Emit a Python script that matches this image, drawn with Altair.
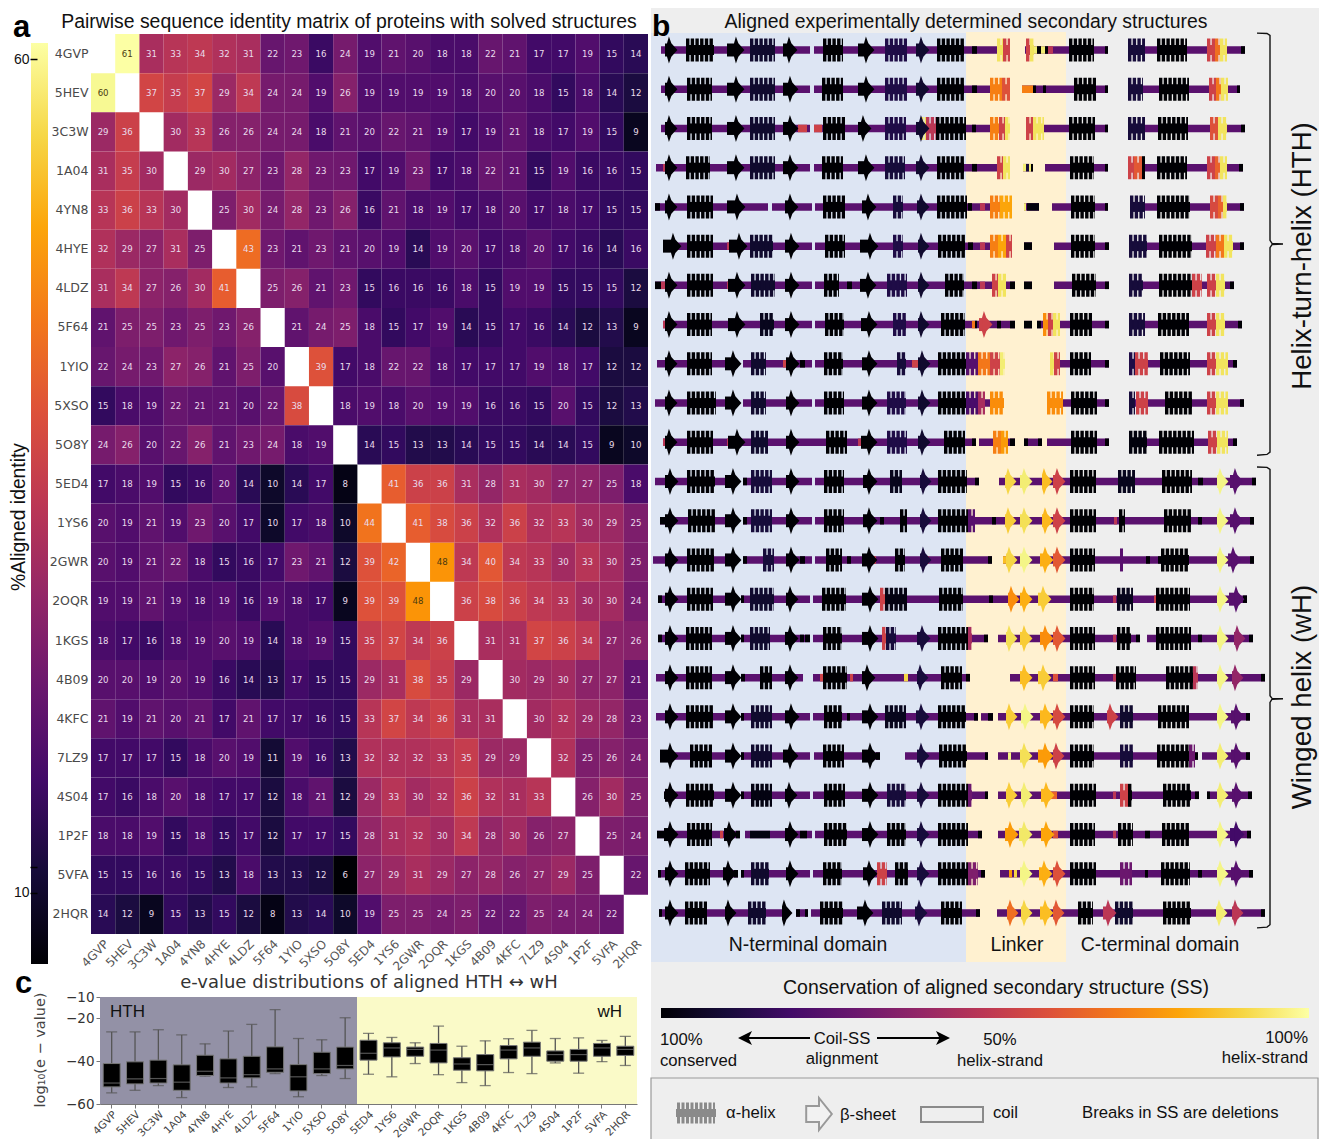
import altair as alt
import pandas as pd

IDS = ["4GVP","5HEV","3C3W","1A04","4YN8","4HYE","4LDZ","5F64","1YIO","5XSO","5O8Y",
       "5ED4","1YS6","2GWR","2OQR","1KGS","4B09","4KFC","7LZ9","4S04","1P2F","5VFA","2HQR"]

IDENTITY = [
 [None,61,31,33,34,32,31,22,23,16,24,19,21,20,18,18,22,21,17,17,19,15,14],
 [60,None,37,35,37,29,34,24,24,19,26,19,19,19,19,18,20,20,18,15,18,14,12],
 [29,36,None,30,33,26,26,24,24,18,21,20,22,21,19,17,19,21,18,17,19,15,9],
 [31,35,30,None,29,30,27,23,28,23,23,17,19,23,17,18,22,21,15,19,16,16,15],
 [33,36,33,30,None,25,30,24,28,23,26,16,21,18,19,17,18,20,17,18,17,15,15],
 [32,29,27,31,25,None,43,23,21,23,21,20,19,14,19,20,17,18,20,17,16,14,16],
 [31,34,27,26,30,41,None,25,26,21,23,15,16,16,16,18,15,19,19,15,15,15,12],
 [21,25,25,23,25,23,26,None,21,24,25,18,15,17,19,14,15,17,16,14,12,13,9],
 [22,24,23,27,26,21,25,20,None,39,17,18,22,22,18,17,17,17,19,18,17,12,12],
 [15,18,19,22,21,21,20,22,38,None,18,19,18,20,19,19,16,16,15,20,15,12,13],
 [24,26,20,22,26,21,23,24,18,19,None,14,15,13,13,14,15,15,14,14,15,9,10],
 [17,18,19,15,16,20,14,10,14,17,8,None,41,36,36,31,28,31,30,27,27,25,18],
 [20,19,21,19,23,20,17,10,17,18,10,44,None,41,38,36,32,36,32,33,30,29,25],
 [20,19,21,22,18,15,16,17,23,21,12,39,42,None,48,34,40,34,33,30,33,30,25],
 [19,19,21,19,18,19,16,19,18,17,9,39,39,48,None,36,38,36,34,33,30,30,24],
 [18,17,16,18,19,20,19,14,18,19,15,35,37,34,36,None,31,31,37,36,34,27,26],
 [20,20,19,20,19,16,14,13,17,15,15,29,31,38,35,29,None,30,29,30,27,27,21],
 [21,19,21,20,21,17,21,17,17,16,15,33,37,34,36,31,31,None,30,32,29,28,23],
 [17,17,17,15,18,20,19,11,19,16,13,32,32,32,33,35,29,29,None,32,25,26,24],
 [17,16,18,20,18,17,17,12,18,21,12,29,33,30,32,36,32,31,33,None,26,30,25],
 [18,18,19,15,18,15,17,12,17,17,15,28,31,32,30,34,28,30,26,27,None,25,24],
 [15,15,16,16,15,13,18,13,13,12,6,27,29,31,29,27,28,26,27,29,25,None,22],
 [14,12,9,15,13,15,12,8,13,14,10,19,25,25,24,25,22,22,25,24,24,22,None],
]

# whisker top, box top, median, box bottom, whisker bottom  (log10 e-value)
WHISK_HI = [-26.3,-26.3,-25.3,-27.7,-31.9,-25.9,-22.8,-15.9,-29.4,-30.0,-19.7,-27.0,-28.9,-31.4,-23.6,-33.0,-30.5,-29.5,-25.6,-29.4,-29.1,-30.3,-28.4]
BOX_HI    = [-41.1,-40.3,-39.5,-41.7,-37.2,-38.9,-37.7,-33.3,-41.6,-35.8,-33.4,-30.2,-31.4,-33.4,-31.7,-38.4,-36.9,-32.7,-31.1,-35.2,-34.5,-31.7,-33.0]
MEDIAN    = [-50.2,-48.3,-48.1,-49.8,-44.7,-47.8,-46.3,-43.6,-47.3,-43.6,-42.0,-36.3,-33.8,-34.5,-34.8,-41.3,-41.6,-34.8,-33.8,-36.9,-36.9,-33.8,-34.5]
BOX_LO    = [-52.0,-50.6,-50.2,-53.6,-46.7,-50.2,-47.8,-45.2,-53.9,-45.8,-43.6,-39.5,-38.0,-37.7,-40.8,-44.2,-44.5,-38.9,-37.7,-40.0,-40.0,-37.7,-37.3]
WHISK_LO  = [-54.8,-53.6,-51.4,-57.0,-47.0,-52.3,-52.0,-45.8,-56.6,-46.7,-48.1,-46.1,-47.3,-41.1,-46.3,-50.0,-51.4,-45.3,-45.8,-40.8,-45.6,-40.2,-42.0]

INFERNO = ["#000004","#160b39","#420a68","#6a176e","#932667","#bc3754","#dd513a","#f37819","#fca50a","#f6d746","#fcffa4"]

# Secondary-structure tracks: alignment columns (start, end) and conservation colour value
COILS = [
 [(11,160),(164,360),(375,458),(478,595)],
 [(11,160),(164,360),(372,458),(478,590)],
 [(11,160),(164,360),(378,458),(478,595)],
 [(6,160),(164,360),(373,383),(395,458),(478,593)],
 [(5,118),(122,162),(165,362),(374,389),(402,458),(480,594)],
 [(13,162),(165,362),(374,382),(404,459),(479,594)],
 [(5,162),(165,365),(374,382),(404,459),(479,584)],
 [(13,162),(165,365),(374,382),(387,459),(479,592)],
 [(7,88),(93,162),(165,352),(400,459),(479,587)],
 [(5,88),(93,162),(165,354),(397,459),(479,594)],
 [(13,326),(329,365),(374,392),(397,459),(479,587)],
 [(5,87),(93,162),(165,329),(349,606)],
 [(10,87),(93,162),(165,604)],
 [(3,87),(93,162),(165,342),(353,604)],
 [(8,86),(91,160),(163,597)],
 [(8,86),(91,160),(163,338),(348,490),(497,603)],
 [(6,86),(91,153),(163,320),(360,615)],
 [(6,86),(91,160),(163,328),(331,343),(348,600)],
 [(10,87),(91,160),(164,230),(255,338),(348,548),(552,600)],
 [(14,86),(91,160),(163,338),(348,549),(557,602)],
 [(7,90),(95,162),(165,332),(348,601)],
 [(8,88),(91,160),(163,335),(350,603)],
 [(9,139),(146,158),(161,330),(347,615)],
]
PATCHES = [
 [(77,81,.5),(208,212,.5),(322,327,0),(384,387,.95),(387,391,0),(391,395,.95),(395,398,0),(398,403,.5),(455,458,0),(591,595,0)],
 [(77,81,.5),(208,212,.5),(322,327,0),(372,383,.72),(383,386,0),(393,396,0),(455,458,0),(587,590,0)],
 [(77,81,.5),(148,157,.55),(164,172,.55),(208,212,.5),(322,326,0),(455,458,0),(591,595,0)],
 [(13,16,.5),(77,81,.5),(322,327,0),(373,376,.95),(376,379,.1),(379,381,.95),(381,383,0),(455,458,0),(589,593,0)],
 [(5,10,0),(318,322,0),(330,335,.5),(374,376,.95),(377,389,.02),(455,458,0),(590,594,0)],
 [(77,83,.5),(318,323,0),(330,335,.5),(374,382,0),(455,459,0),(590,594,0)],
 [(5,11,0),(11,15,.5),(77,80,.5),(197,202,0),(322,327,0),(330,335,.5),(360,365,0),(374,382,0),(455,459,0),(580,584,0)],
 [(13,16,.5),(322,325,.7),(325,327,0),(347,351,0),(360,365,0),(374,382,0),(387,391,0),(455,459,0),(588,592,0)],
 [(133,137,.55),(150,155,0),(262,268,.55),(455,459,0),(583,587,0)],
 [(455,459,0),(590,594,0)],
 [(13,17,.5),(77,81,.5),(208,213,.5),(322,326,0),(360,365,0),(374,378,0),(388,392,0),(455,459,0),(583,587,0)],
 [(93,97,0),(325,329,0),(548,553,0),(602,606,0)],
 [(10,15,0),(93,97,0),(230,234,0),(342,346,0),(464,467,.5),(548,552,0),(600,604,0)],
 [(93,97,0),(150,155,0),(197,201,0),(223,226,.55),(276,279,.55),(338,342,0),(353,358,.85),(496,500,0),(508,512,0),(600,604,0)],
 [(8,12,0),(91,94,0),(339,343,0),(463,466,.5),(504,506,.55),(593,597,0)],
 [(8,12,0),(91,94,0),(150,154,0),(155,160,0),(334,338,0),(463,466,.5),(486,490,0),(548,552,0),(599,603,0)],
 [(91,95,0),(170,173,.55),(200,203,.55),(254,258,.9),(316,320,0),(403,408,.6),(463,467,.5),(611,615,0)],
 [(91,94,0),(197,200,0),(324,328,0),(338,343,0),(596,600,0)],
 [(10,20,0),(91,94,0),(226,230,0),(335,338,0),(358,361,.97),(544,548,0),(596,600,0)],
 [(14,18,0),(91,94,0),(335,338,0),(400,407,.65),(463,466,.5),(545,549,0),(557,560,0),(598,602,0)],
 [(7,20,0),(70,73,.55),(86,90,0),(100,120,.03),(150,157,0),(328,332,0),(403,408,.6),(463,466,.5),(495,500,0),(597,601,0)],
 [(8,11,0),(84,88,0),(91,94,0),(331,335,0),(359,362,.78),(364,367,.9),(495,498,0),(548,552,0),(599,603,0)],
 [(9,12,0),(146,150,0),(155,158,0),(326,330,0),(611,615,0)],
]
HELICES = [
 [(36,64,0),(100,125,.08),(173,193,0),(235,257,.12),(287,314,0),(347,353,.93),(353,360,.55),(376,380,.55),(380,384,.93),(419,444,0),(478,495,.1),(507,537,0),(557,565,.55),(565,570,.68),(570,577,.93)],
 [(37,62,0),(100,125,.08),(172,193,0),(235,257,.12),(287,314,0),(340,352,.72),(352,360,.6),(424,446,0),(478,493,.1),(509,539,0),(559,566,.55),(566,571,.7),(571,578,.93)],
 [(37,62,0),(100,125,.08),(173,195,0),(235,256,.12),(270,276,.92),(276,286,.5),(286,316,0),(340,349,.72),(349,355,.55),(355,360,.93),(376,383,.55),(383,394,.93),(419,445,0),(478,495,.1),(508,538,0),(560,568,.6),(568,577,.93)],
 [(36,60,0),(100,125,.08),(172,193,0),(235,255,.1),(287,314,0),(347,353,.55),(353,360,.93),(420,444,0),(478,484,.55),(484,492,.62),(492,495,0),(507,537,0),(557,565,.55),(565,570,.65),(570,577,.93)],
 [(37,63,0),(173,195,0),(243,253,.1),(287,317,0),(340,350,.72),(350,362,.8),(421,445,0),(480,495,.1),(507,540,0),(560,568,.58),(568,573,.65),(573,577,.93)],
 [(37,63,0),(100,123,.08),(175,195,0),(243,253,.12),(288,315,0),(340,348,.72),(348,356,.8),(356,362,.55),(421,445,0),(479,497,.1),(509,542,0),(556,566,.55),(566,574,.7),(574,583,.93)],
 [(37,63,0),(101,125,.08),(174,189,0),(237,257,.12),(295,314,0),(342,348,.55),(348,356,.93),(422,446,0),(479,493,.1),(509,542,0),(542,552,.55),(557,566,.55),(566,575,.93)],
 [(37,62,0),(110,124,.05),(175,194,0),(243,256,.12),(291,315,0),(393,398,.75),(398,403,.55),(403,410,.93),(420,442,0),(479,495,.1),(508,539,0),(557,566,.55),(566,575,.93)],
 [(37,62,0),(101,116,.08),(174,193,0),(247,256,.1),(288,316,0),(316,328,.25),(328,340,.7),(340,350,.55),(350,355,.95),(400,404,.93),(404,410,.55),(420,441,0),(479,485,.12),(485,498,.55),(510,540,0),(557,566,.55),(566,578,.93)],
 [(37,66,0),(101,116,.08),(174,194,0),(237,256,.12),(288,316,0),(316,328,.22),(328,335,.45),(340,354,.75),(397,413,.75),(421,447,0),(479,485,.1),(486,498,.55),(515,542,0),(557,566,.55),(566,578,.93)],
 [(37,63,0),(101,118,.08),(176,197,0),(237,257,.12),(294,315,0),(343,351,.72),(351,358,.78),(421,447,0),(479,497,.02),(509,544,0),(558,567,.55),(567,578,.93)],
 [(37,65,0),(101,122,.1),(174,194,0),(240,252,.05),(288,317,0),(420,446,0),(468,485,.05),(512,542,0)],
 [(38,65,0),(101,122,.1),(174,194,0),(250,257,0),(288,318,0),(318,325,.25),(420,446,0),(469,475,0),(514,541,0)],
 [(37,64,0),(113,124,.1),(176,192,0),(245,255,0),(291,313,0),(420,445,0),(470,473,.25),(511,539,0)],
 [(37,63,0),(100,124,.08),(172,196,0),(230,235,.55),(235,257,.03),(289,313,0),(420,444,0),(467,483,.05),(506,540,0)],
 [(36,62,0),(100,120,.08),(173,192,0),(232,236,.55),(236,246,.1),(288,318,0),(318,322,.45),(420,445,0),(467,481,0),(506,541,0)],
 [(36,62,0),(110,122,0),(173,197,0),(291,312,0),(420,445,0),(466,486,0),(516,543,0),(543,548,.5)],
 [(36,63,0),(101,122,.08),(174,192,0),(235,256,.05),(288,316,0),(420,444,0),(470,483,.08),(508,539,0)],
 [(40,62,0),(101,122,.08),(173,194,0),(289,317,0),(420,444,0),(470,483,.1),(507,539,0),(539,545,.3)],
 [(36,64,0),(101,122,.03),(174,195,0),(237,256,.1),(288,318,0),(318,322,.3),(420,446,0),(470,478,.55),(478,482,0),(513,541,0)],
 [(37,62,0),(174,197,0),(237,256,0),(288,318,0),(420,445,0),(468,483,0),(512,539,0)],
 [(35,60,0),(101,119,.08),(173,192,0),(227,237,.55),(245,258,0),(288,318,0),(318,328,.35),(420,446,0),(470,482,.3),(511,540,0)],
 [(35,57,0),(98,116,.08),(170,193,0),(232,252,.08),(291,312,0),(428,443,0),(465,483,.08),(513,541,0)],
]
ARROWS = [
 [(15,20,0),(77,87,0),(133,140,0),(208,217,0),(266,272,.08)],
 [(15,20,0),(77,87,0),(133,141,0),(208,217,0),(266,272,.08)],
 [(15,20,0),(77,87,0),(133,141,0),(208,214,0),(266,272,.08)],
 [(15,20,0),(77,87,0),(133,141,0),(208,217,0),(266,272,.08)],
 [(15,20,0),(77,88,0),(135,141,0),(212,219,0),(267,272,.08)],
 [(13,24,0),(79,90,0),(135,142,0),(210,221,0),(268,272,.08)],
 [(15,20,0),(78,88,0),(135,142,0),(210,219,0),(268,272,.08)],
 [(15,20,0),(78,88,0),(135,142,0),(211,220,0),(268,272,.08),(329,335,.55)],
 [(15,20,0),(75,84,0),(136,142,0),(212,220,0),(268,273,.08)],
 [(15,20,0),(75,84,0),(136,142,0),(212,220,0),(268,273,.08)],
 [(15,20,0),(78,88,0),(136,142,0),(211,220,0),(268,273,.08)],
 [(15,21,0),(75,84,0),(136,142,0),(213,220,0),(270,274,.1),(355,359,.9),(370,375,.95),(392,395,.85),(403,408,.55),(567,571,.97),(580,586,.25)],
 [(15,21,0),(75,84,0),(136,142,0),(213,220,0),(270,274,.1),(355,359,.88),(370,375,.92),(392,396,.84),(403,408,.55),(567,571,.97),(580,586,.25)],
 [(15,21,0),(75,84,0),(136,142,0),(212,220,0),(270,274,.1),(356,360,.9),(370,375,.97),(390,396,.82),(403,408,.62),(567,571,.97),(578,584,.25)],
 [(15,21,0),(75,84,0),(136,141,0),(212,221,0),(358,362,.75),(370,375,.82),(388,394,.88),(567,571,.97),(579,587,.25)],
 [(15,21,0),(75,84,0),(135,141,0),(212,221,0),(267,273,.1),(356,360,.92),(370,375,.88),(390,396,.75),(403,408,.62),(567,571,.97),(584,588,.4)],
 [(15,21,0),(75,84,0),(135,141,0),(212,218,0),(267,271,.1),(370,375,.85),(388,394,.88),(567,571,.97),(582,586,.4)],
 [(15,21,0),(75,84,0),(135,142,0),(212,221,0),(266,272,.1),(356,360,.88),(371,376,.97),(390,396,.84),(403,408,.58),(457,461,.55),(567,571,.97),(581,587,.25)],
 [(10,21,0),(75,84,0),(133,141,0),(212,221,0),(267,272,.1),(370,375,.92),(388,396,.78),(403,407,.55),(567,571,.95),(581,587,.25)],
 [(15,21,0),(75,84,0),(135,140,0),(212,221,0),(267,272,.1),(356,360,.88),(371,375,.95),(391,397,.84),(567,571,.95),(582,587,.25)],
 [(14,21,0),(74,80,0),(135,141,0),(212,221,0),(267,272,.1),(355,361,.78),(369,375,.94),(391,397,.8),(567,571,.97),(580,587,.2)],
 [(15,21,0),(73,79,0),(136,141,0),(213,220,0),(267,272,.1),(370,375,.97),(389,395,.82),(403,408,.6),(567,571,.97),(581,587,.25)],
 [(15,21,0),(75,79,0),(132,135,0),(207,216,0),(265,270,.1),(357,361,.68),(371,375,.9),(390,396,.85),(403,407,.62),(453,459,.5),(566,570,.95),(582,586,.5)],
]
BRACKET_HTH = [(607,-.43),(617,-.42),(620,-.37),(620,4.85),(622,4.93),(633,4.945),(622,4.96),(620,5.04),(620,10.25),(617,10.31),(607,10.33)]
BRACKET_WH = [(607,10.63),(617,10.64),(620,10.69),(620,16.46),(622,16.53),(633,16.54),(622,16.55),(620,16.63),(620,22.3),(617,22.36),(607,22.38)]

CANVAS_W, CANVAS_H = 1311, 1131
LS = "Liberation Sans"
DV = "DejaVu Sans"


def blank():
    return alt.Chart(pd.DataFrame({"t": [""]}))


def note(text, x, y, size=15, font=LS, color="#111111", align="left", angle=0, weight="normal"):
    kw = {"angle": angle} if angle else {}
    return alt.Chart(pd.DataFrame({"t": [text]})).mark_text(
        fontSize=size, font=font, color=color, align=align, baseline="alphabetic",
        fontWeight=weight, **kw
    ).encode(text="t:N", x=alt.value(x), y=alt.value(y))


def box(x, x2, y, y2, **mark):
    return blank().mark_rect(**mark).encode(
        x=alt.value(x), x2=alt.value(x2), y=alt.value(y), y2=alt.value(y2))


def gradient(x1, y1, x2, y2):
    stops = [alt.GradientStop(color=c, offset=i / (len(INFERNO) - 1)) for i, c in enumerate(INFERNO)]
    return alt.LinearGradient(gradient="linear", stops=stops, x1=x1, y1=y1, x2=x2, y2=y2)


layers = []

# ---------- panel backgrounds ----------
layers += [
    box(643, 1312, 0, CANVAS_H, color="#eeeeee"),
    box(643, 958, 25, 954, color="#dde5f3"),
    box(958, 1058, 24, 954, color="#fff1d0"),
]

# ---------- panel a: heat map ----------
cells = pd.DataFrame([
    {"r": IDS[i], "c": IDS[j], "v": val,
     "tc": "#4a3a10" if val >= 48 else "#e9dcec"}
    for i, row in enumerate(IDENTITY) for j, val in enumerate(row) if val is not None
])
hm_x = alt.Scale(domain=IDS, range=[83, 640], paddingInner=0, paddingOuter=0)
hm_y = alt.Scale(domain=IDS, range=[26, 926], paddingInner=0, paddingOuter=0)
layers.append(
    alt.Chart(cells).mark_rect().encode(
        x=alt.X("c:N", scale=hm_x, title=None, axis=alt.Axis(
            orient="bottom", offset=-(CANVAS_H - 926), labelAngle=-45, labelFont=DV, labelFontSize=12,
            labelColor="#555555", tickSize=0, domain=False, labelPadding=4, grid=False)),
        y=alt.Y("r:N", scale=hm_y, title=None, axis=alt.Axis(
            orient="left", offset=-83, labelFont=DV, labelFontSize=12.5, labelColor="#4a4a4a",
            tickSize=0, domain=False, labelPadding=3, grid=False)),
        color=alt.Color("v:Q", scale=alt.Scale(scheme="inferno", domain=[6, 61]), legend=None),
    )
)
layers.append(
    alt.Chart(cells).mark_text(font=DV, fontSize=8.6).encode(
        x=alt.X("c:N", scale=hm_x, axis=None),
        y=alt.Y("r:N", scale=hm_y, axis=None),
        text="v:Q",
        color=alt.Color("tc:N", scale=None),
    )
)

# ---------- panel a: colour bar ----------
cbar = pd.DataFrame({"lo": [5.74], "hi": [60.96]})
layers.append(
    alt.Chart(cbar).mark_rect(color=gradient(0, 1, 0, 0)).encode(
        x=alt.value(23), x2=alt.value(40),
        y=alt.Y("lo:Q", title=None,
                scale=alt.Scale(domain=[5.74, 60.96], range=[956, 35], nice=False, zero=False),
                axis=alt.Axis(orient="left", offset=-29, values=[60, 11.56, 10], domain=False, grid=False,
                              tickSize=7, tickColor="black", tickWidth=1.5, labelFont=LS, labelFontSize=14,
                              labelColor="#111111", labelPadding=1, zindex=1,
                              labelExpr="datum.value > 11 && datum.value < 12 ? '' : datum.label")),
        y2="hi:Q",
    )
)

# ---------- panel c: box plots ----------
boxes = pd.DataFrame({"id": IDS, "wh": WHISK_HI, "bh": BOX_HI, "m": MEDIAN, "bl": BOX_LO, "wl": WHISK_LO})
bx = alt.Scale(domain=IDS, range=[92, 629], paddingInner=0, paddingOuter=0)
by = alt.Scale(domain=[-60, -10], range=[1096, 989], nice=False, zero=False)
layers += [box(92, 349, 989, 1096, color="#9391a6"), box(349, 629, 989, 1096, color="#fafac8")]
layers.append(
    alt.Chart(boxes).mark_rule(color="#555555", strokeWidth=1.3).encode(
        x=alt.X("id:N", scale=bx, title=None, axis=alt.Axis(
            orient="bottom", offset=-(CANVAS_H - 1096), labelAngle=-45, labelFont=DV, labelFontSize=10.5,
            labelColor="#444444", tickSize=4, tickColor="#777777", domainColor="#777777", labelPadding=1, grid=False)),
        y=alt.Y("wh:Q", scale=by, title=None, axis=alt.Axis(
            orient="left", offset=-92, values=[-10, -20, -40, -60], labelFont=DV, labelFontSize=13.5,
            labelColor="#333333", tickSize=4, tickColor="#777777", domainColor="#777777", labelPadding=2, grid=False)),
        y2="wl:Q",
    )
)
for field in ("wh", "wl"):
    layers.append(alt.Chart(boxes).mark_tick(color="#555555", size=11, thickness=1.3).encode(
        x=alt.X("id:N", scale=bx, axis=None), y=alt.Y(field + ":Q", scale=by, axis=None)))
layers.append(alt.Chart(boxes).mark_bar(size=17, color="black", stroke="#777777", strokeWidth=1).encode(
    x=alt.X("id:N", scale=bx, axis=None), y=alt.Y("bh:Q", scale=by, axis=None), y2="bl:Q"))
layers.append(alt.Chart(boxes).mark_tick(color="#777777", size=17, thickness=1.2).encode(
    x=alt.X("id:N", scale=bx, axis=None), y=alt.Y("m:Q", scale=by, axis=None)))


# ---------- panel b: secondary-structure tracks ----------
def frame(rows):
    return pd.DataFrame([
        {"row": i, "a": t[0], "b": t[1], "v": t[2] if len(t) > 2 else 0.26}
        for i, row in enumerate(rows) for t in row
    ])


tx = alt.Scale(domain=[0, 670], range=[642, 1312], nice=False, zero=False)
ty = alt.Scale(domain=[0, 22], range=[42, 905], nice=False, zero=False)
tc = alt.Color("v:Q", scale=alt.Scale(scheme="inferno", domain=[0, 1]), legend=None)
span = dict(x=alt.X("a:Q", scale=tx, axis=None), x2="b:Q",
            y=alt.Y("row:Q", scale=ty, axis=None), color=tc)

coil_df, patch_df, helix_df, arrow_df = frame(COILS), frame(PATCHES), frame(HELICES), frame(ARROWS)
HEAD = "M-0.22,-0.5L-0.08,-1L0.1,-0.5L0.55,0L0.1,0.5L-0.08,1L-0.22,0.5Z"
layers += [
    alt.Chart(coil_df).mark_rule(strokeWidth=7.5).encode(**span),
    alt.Chart(patch_df).mark_rule(strokeWidth=7.5).encode(**span),
    alt.Chart(helix_df).mark_rule(strokeWidth=10).encode(**span),
    alt.Chart(helix_df).mark_rule(strokeWidth=23, strokeDash=[3.4, 1.3]).encode(**span),
    alt.Chart(arrow_df).mark_rule(strokeWidth=13).encode(**span),
    alt.Chart(arrow_df).mark_point(shape=HEAD, size=729, filled=True, opacity=1, strokeWidth=0).encode(
        x=alt.X("b:Q", scale=tx, axis=None), y=alt.Y("row:Q", scale=ty, axis=None), color=tc),
]

brackets = pd.DataFrame(
    [{"g": "HTH", "o": i, "a": p[0], "row": p[1]} for i, p in enumerate(BRACKET_HTH)] +
    [{"g": "wH", "o": i, "a": p[0], "row": p[1]} for i, p in enumerate(BRACKET_WH)])
layers.append(alt.Chart(brackets).mark_line(color="#111111", strokeWidth=1.4).encode(
    x=alt.X("a:Q", scale=tx, axis=None), y=alt.Y("row:Q", scale=ty, axis=None),
    detail="g:N", order="o:Q"))

# ---------- text ----------
layers += [
    note("a", 5, 29, size=31, weight="bold", color="black"),
    note("b", 644, 28, size=30, weight="bold", color="black"),
    note("c", 7, 985, size=31, weight="bold", color="black"),
    note("Pairwise sequence identity matrix of proteins with solved structures", 341, 20, size=19.4, align="center"),
    note("Aligned experimentally determined secondary structures", 958, 20, size=19.4, align="center"),
    note("%Aligned identity", 17, 509, size=19.3, align="center", angle=270),
    note("e-value distributions of aligned HTH \u2194 wH", 361, 980, size=18, font=DV, color="#333333", align="center"),
    note("log\u2081\u2080(e \u2212 value)", 37, 1042, size=14.5, font=DV, color="#444444", align="center", angle=270),
    note("HTH", 102, 1009, size=17),
    note("wH", 614, 1009, size=17, align="right"),
    note("Helix-turn-helix (HTH)", 1303, 248, size=27.7, align="center", angle=270),
    note("Winged helix (wH)", 1303, 689, size=27.7, align="center", angle=270),
    note("N-terminal domain", 800, 943, size=19.4, align="center"),
    note("Linker", 1009, 943, size=19.4, align="center"),
    note("C-terminal domain", 1152, 943, size=19.4, align="center"),
    note("Conservation of aligned secondary structure (SS)", 988, 986, size=19.5, align="center"),
    note("100%", 652, 1037, size=16.7),
    note("conserved", 652, 1058, size=16.7),
    note("Coil-SS", 834, 1036, size=16.7, align="center"),
    note("alignment", 834, 1056, size=16.7, align="center"),
    note("50%", 992, 1037, size=16.7, align="center"),
    note("helix-strand", 992, 1058, size=16.7, align="center"),
    note("100%", 1300, 1035, size=16.7, align="right"),
    note("helix-strand", 1300, 1055, size=16.7, align="right"),
    note("\u03b1-helix", 718, 1110, size=16.7),
    note("\u03b2-sheet", 832, 1112, size=16.7),
    note("coil", 985, 1110, size=16.7),
    note("Breaks in SS are deletions", 1074, 1110, size=16.7),
]

# ---------- conservation key ----------
layers.append(box(653, 1301, 1000, 1010, color=gradient(0, 0, 1, 0)))
for x, x2 in ((738, 802), (869, 935)):
    layers.append(blank().mark_rule(color="black", strokeWidth=2.2).encode(
        x=alt.value(x), x2=alt.value(x2), y=alt.value(1030)))
layers.append(blank().mark_point(shape="M-1,0L1,-1L.5,0L1,1Z", size=196, filled=True, color="black", opacity=1).encode(
    x=alt.value(737), y=alt.value(1030)))
layers.append(blank().mark_point(shape="M1,0L-1,-1L-.5,0L-1,1Z", size=196, filled=True, color="black", opacity=1).encode(
    x=alt.value(935), y=alt.value(1030)))

# ---------- shape key ----------
layers.append(box(643, 1310, 1070, 1150, fill="transparent", stroke="#999999", strokeWidth=1.2))
layers.append(blank().mark_rule(color="#8a8a8a", strokeWidth=8).encode(
    x=alt.value(668), x2=alt.value(708), y=alt.value(1105)))
layers.append(blank().mark_rule(color="#8a8a8a", strokeWidth=21, strokeDash=[3, 1.5]).encode(
    x=alt.value(669), x2=alt.value(707), y=alt.value(1105)))
layers.append(blank().mark_point(shape="M-.8,-.5L0,-.5L0,-1L.8,0L0,1L0,.5L-.8,.5Z", size=1024, filled=True,
                                 fill="#f2f2f2", stroke="#999999", strokeWidth=2, opacity=1).encode(
    x=alt.value(811), y=alt.value(1106)))
layers.append(box(913, 975, 1099, 1114, fill="transparent", stroke="#8a8a8a", strokeWidth=2))

chart = alt.layer(*layers).resolve_scale(x="independent", y="independent", color="independent").properties(
    width=CANVAS_W, height=CANVAS_H, padding=0, autosize=alt.AutoSizeParams(type="none"), background="white",
).configure_view(stroke=None)

chart.save("out.html", embed_options={"renderer": "svg", "actions": False})
